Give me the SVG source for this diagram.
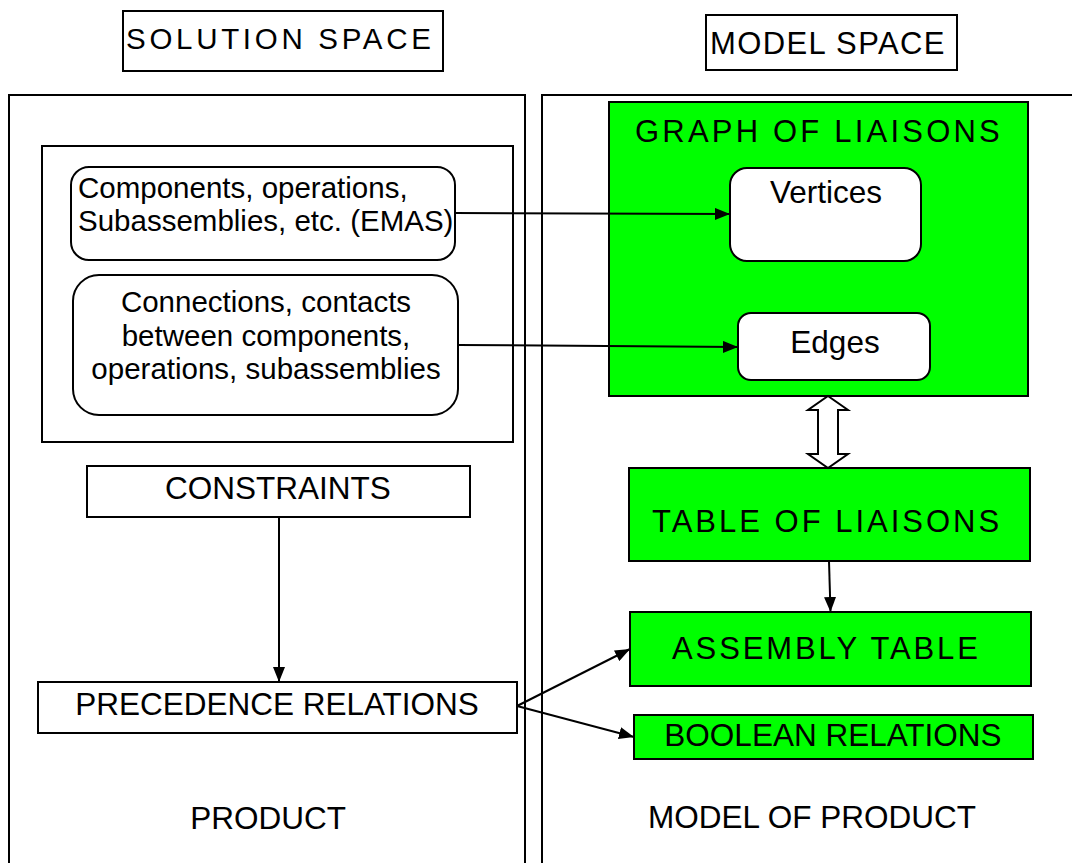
<svg xmlns="http://www.w3.org/2000/svg" width="1072" height="863" viewBox="0 0 1072 863">
  <style>
    .box { fill: #ffffff; stroke: #000000; stroke-width: 2; }
    .green { fill: #00ff00; stroke: #000000; stroke-width: 2; }
    .panel { fill: none; stroke: #000000; stroke-width: 2; }
    .t { font-family: "Liberation Sans", Arial, sans-serif; font-size: 31.5px; fill: #000000; }
    .s { font-family: "Liberation Sans", Arial, sans-serif; font-size: 29.5px; fill: #000000; }
    .c { text-anchor: middle; }
    .wire { fill: none; stroke: #000000; stroke-width: 2; }
  </style>
  <defs>
    <marker id="head" markerUnits="userSpaceOnUse" markerWidth="16" markerHeight="12" refX="15" refY="6" orient="auto">
      <path d="M0,0 L15,6 L0,12 z" fill="#000000"/>
    </marker>
  </defs>

  <rect width="1072" height="863" fill="#ffffff"/>

  <!-- headings -->
  <g id="solution-space-title">
    <rect class="box" x="123" y="11" width="320" height="60"/>
    <text class="t" x="126" y="49" style="font-size:29.5px;letter-spacing:3.7px">SOLUTION SPACE</text>
  </g>
  <g id="model-space-title">
    <rect class="box" x="706" y="15" width="251" height="55"/>
    <text class="t" x="710" y="54" style="font-size:31px;letter-spacing:1.4px">MODEL SPACE</text>
  </g>

  <!-- panels -->
  <g id="product-panel">
    <path class="panel" d="M9,870 V95 H525 V870"/>
    <text class="t c" x="268" y="829">PRODUCT</text>
  </g>
  <g id="model-panel">
    <path class="panel" d="M542,870 V95 H1080"/>
    <text class="t c" x="812" y="828">MODEL OF PRODUCT</text>
  </g>

  <!-- solution space nodes -->
  <g id="emas-group">
    <rect class="panel" x="42" y="146" width="471" height="296"/>
  </g>
  <g id="components">
    <rect class="box" x="71" y="167" width="384" height="93" rx="18"/>
    <text class="s" x="78" y="198">Components, operations,</text>
    <text class="s" x="78" y="231">Subassemblies, etc. (EMAS)</text>
  </g>
  <g id="connections">
    <rect class="box" x="73" y="275" width="385" height="140" rx="26"/>
    <text class="s c" x="266" y="312">Connections, contacts</text>
    <text class="s c" x="266" y="346">between components,</text>
    <text class="s c" x="266" y="379">operations, subassemblies</text>
  </g>
  <g id="constraints">
    <rect class="box" x="87" y="466" width="383" height="51"/>
    <text class="t c" x="278" y="499">CONSTRAINTS</text>
  </g>
  <g id="precedence">
    <rect class="box" x="38" y="682" width="479" height="51"/>
    <text class="t c" x="277" y="715">PRECEDENCE RELATIONS</text>
  </g>

  <!-- model space nodes -->
  <g id="graph-of-liaisons">
    <rect class="green" x="609" y="102" width="419" height="294"/>
    <text class="t" x="635" y="142" style="font-size:31px;letter-spacing:3.2px">GRAPH OF LIAISONS</text>
  </g>
  <g id="vertices">
    <rect class="box" x="730" y="168" width="191" height="93" rx="17"/>
    <text class="t c" x="826" y="203">Vertices</text>
  </g>
  <g id="edges">
    <rect class="box" x="738" y="313" width="192" height="67" rx="13"/>
    <text class="t c" x="835" y="353">Edges</text>
  </g>
  <g id="table-of-liaisons">
    <rect class="green" x="629" y="468" width="401" height="93"/>
    <text class="t" x="652" y="532" style="font-size:31px;letter-spacing:3px">TABLE OF LIAISONS</text>
  </g>
  <g id="assembly-table">
    <rect class="green" x="630" y="612" width="401" height="74"/>
    <text class="t" x="672" y="659" style="font-size:31px;letter-spacing:2.9px">ASSEMBLY TABLE</text>
  </g>
  <g id="boolean-relations">
    <rect class="green" x="634" y="715" width="399" height="44"/>
    <text class="t c" x="833" y="746">BOOLEAN RELATIONS</text>
  </g>

  <!-- connectors -->
  <g id="connectors">
    <line class="wire" x1="455" y1="213" x2="730" y2="214" marker-end="url(#head)"/>
    <line class="wire" x1="458" y1="345" x2="738" y2="347" marker-end="url(#head)"/>
    <line class="wire" x1="279" y1="517" x2="279" y2="682" marker-end="url(#head)"/>
    <line class="wire" x1="829" y1="561" x2="830.5" y2="612" marker-end="url(#head)"/>
    <line class="wire" x1="517" y1="706" x2="630" y2="649" marker-end="url(#head)"/>
    <line class="wire" x1="517" y1="706" x2="634" y2="737" marker-end="url(#head)"/>
    <polygon points="828,396 848,410 838,410 838,454 848,454 828,468 808,454 818,454 818,410 808,410" fill="#ffffff" stroke="#000000" stroke-width="2"/>
  </g>
</svg>
